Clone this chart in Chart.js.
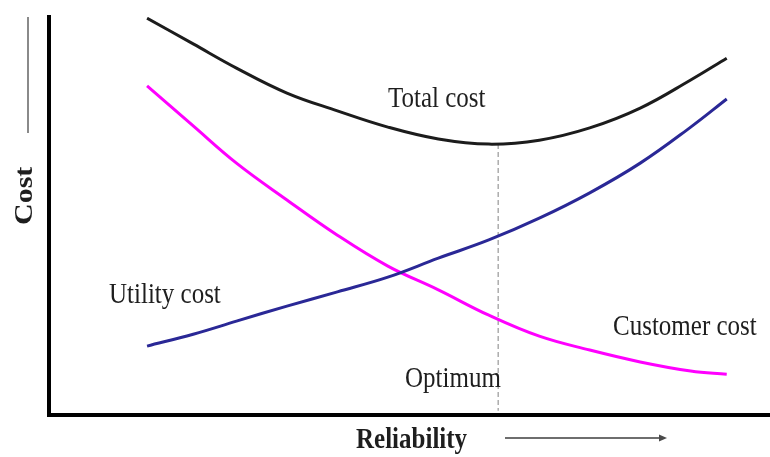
<!DOCTYPE html>
<html>
<head>
<meta charset="utf-8">
<script src="https://cdn.jsdelivr.net/npm/chart.js@4/dist/chart.umd.min.js"></script>
<style>
  html, body { margin: 0; padding: 0; background: #ffffff; }
  #wrap { width: 770px; height: 457px; position: relative; }
</style>
</head>
<body>
<div id="wrap"><canvas id="c" width="770" height="457"></canvas></div>
<script>
// ---- data ----
const reliability  = [13.6, 20, 26, 33, 40, 47, 54, 61, 68, 75, 82, 89, 94];
const totalCost    = [99.7, 93.2, 87.1, 80.8, 76.3, 72.2, 69.2, 67.9, 68.9, 72.0, 77.0, 84.1, 89.6];
const utilityCost  = [16.9, 19.9, 23.2, 27.0, 30.6, 34.3, 39.1, 43.7, 49.2, 55.6, 63.1, 72.2, 79.3];
const customerCost = [82.6, 72.5, 63.1, 53.8, 44.9, 37.1, 31.1, 24.7, 19.4, 15.9, 12.9, 10.6, 9.8];
const optimumX     = [62.3, 62.3];
const optimumY     = [67.9, 0.6];
const seriesNames  = ['Total cost', 'Utility cost', 'Customer cost', 'Optimum'];
const axisNames    = ['Reliability', 'Cost'];

const toPts = (xs, ys) => xs.map((x, i) => ({ x: x, y: ys[i] }));

const SERIF = '"Liberation Serif", "Times New Roman", serif';
const STRETCH = 1.2;

function stretchedText(ctx, text, x, y, font) {
  ctx.save();
  ctx.font = font;
  ctx.fillStyle = '#1e1e1e';
  ctx.textAlign = 'left';
  ctx.textBaseline = 'alphabetic';
  ctx.translate(x, y);
  ctx.scale(1, STRETCH);
  ctx.fillText(text, 0, 0);
  ctx.restore();
}

const labelsPlugin = {
  id: 'labelsPlugin',
  afterDraw(chart) {
    const ctx = chart.ctx;
    const f = '25px ' + SERIF;
    const fb = 'bold 25px ' + SERIF;
    stretchedText(ctx, seriesNames[0], 388, 107, f);
    stretchedText(ctx, seriesNames[1], 109, 303, f);
    stretchedText(ctx, seriesNames[2], 613, 335, f);
    stretchedText(ctx, seriesNames[3], 405, 387, f);
    stretchedText(ctx, axisNames[0], 356, 448, fb);

    // "Cost" rotated (reads bottom to top)
    ctx.save();
    ctx.font = fb;
    ctx.fillStyle = '#1e1e1e';
    ctx.translate(32, 225);
    ctx.rotate(-Math.PI / 2);
    ctx.scale(STRETCH, 1);
    ctx.fillText(axisNames[1], 0, 0);
    ctx.restore();

    // vertical gray line above "Cost"
    ctx.save();
    ctx.strokeStyle = '#8a8a8a';
    ctx.lineWidth = 2;
    ctx.beginPath();
    ctx.moveTo(28, 17);
    ctx.lineTo(28, 133);
    ctx.stroke();

    // horizontal arrow right of "Reliability"
    ctx.strokeStyle = '#6e6e6e';
    ctx.fillStyle = '#4a4a4a';
    ctx.beginPath();
    ctx.moveTo(505, 438);
    ctx.lineTo(660, 438);
    ctx.stroke();
    ctx.beginPath();
    ctx.moveTo(667, 438);
    ctx.lineTo(659, 434.5);
    ctx.lineTo(659, 441.5);
    ctx.closePath();
    ctx.fill();
    ctx.restore();
  }
};

const zeroFit = (scale) => {
  if (scale.isHorizontal()) scale.height = 0; else scale.width = 0;
};

new Chart(document.getElementById('c'), {
  type: 'line',
  data: {
    datasets: [
      { label: seriesNames[0], data: toPts(reliability, totalCost), borderColor: '#1c1c1c', borderWidth: 3, pointRadius: 0, tension: 0.4, fill: false },
      { label: seriesNames[1], data: toPts(reliability, utilityCost), borderColor: '#2a2896', borderWidth: 3, pointRadius: 0, tension: 0.4, fill: false },
      { label: seriesNames[2], data: toPts(reliability, customerCost), borderColor: '#ff00ff', borderWidth: 3, pointRadius: 0, tension: 0.4, fill: false },
      { label: seriesNames[3], data: toPts(optimumX, optimumY), borderColor: '#a0a0a0', borderWidth: 1.3, borderDash: [5, 3], pointRadius: 0, fill: false }
    ]
  },
  options: {
    responsive: false,
    animation: false,
    events: [],
    layout: { padding: { left: 49, top: 17, right: 0, bottom: 42 } },
    plugins: { legend: { display: false }, tooltip: { enabled: false }, title: { display: false } },
    scales: {
      x: {
        type: 'linear', min: 0, max: 100,
        grid: { display: false },
        ticks: { display: false },
        border: { display: true, color: '#000000', width: 4 },
        afterFit: zeroFit
      },
      y: {
        type: 'linear', min: -0.5, max: 100,
        grid: { display: false },
        ticks: { display: false },
        border: { display: true, color: '#000000', width: 4 },
        afterFit: zeroFit
      }
    }
  },
  plugins: [labelsPlugin]
});
</script>
</body>
</html>
